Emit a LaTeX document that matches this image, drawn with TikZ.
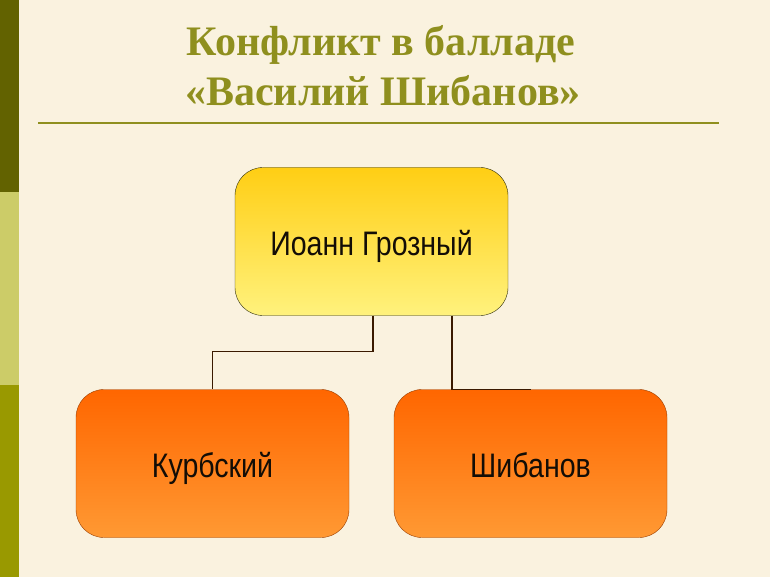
\documentclass[tikz,border=0pt]{standalone}
\usepackage{fontspec}
\usepackage{graphicx}
\usepackage{xcolor}
\usepackage{tikz}
\setmainfont{Liberation Serif}
\newfontfamily\boxfont{Liberation Sans}

\definecolor{paper}{RGB}{250,242,223}
\definecolor{olivetitle}{RGB}{143,143,30}
\definecolor{bardark}{RGB}{98,98,0}
\definecolor{barlight}{RGB}{204,204,104}
\definecolor{barmid}{RGB}{153,153,0}
\definecolor{yellowtop}{RGB}{255,206,20}
\definecolor{yellowbot}{RGB}{255,242,125}
\definecolor{orangetop}{RGB}{255,102,0}
\definecolor{orangebot}{RGB}{255,153,51}
\definecolor{linkline}{RGB}{58,26,0}

\newcommand{\boxtext}[1]{\boxfont\fontsize{34}{40}\selectfont\scalebox{0.84}[1]{#1}}

\begin{document}
\begin{tikzpicture}[x=1pt,y=-1pt,
	title/.style={anchor=base,text=olivetitle,font=\fontsize{42}{50}\selectfont\bfseries},
	namebox/.style={draw,rounded corners=28pt,minimum width=273pt,minimum height=148pt,inner sep=0pt,text height=27pt,text depth=0pt,text=black!90!brown},
	topbox/.style={namebox,draw=black!70!olivetitle,top color=yellowtop,bottom color=yellowbot},
	sidebox/.style={namebox,draw=orangetop!60!black,top color=orangetop,bottom color=orangebot},
	link/.style={draw=linkline,line width=1.5pt}]
	\useasboundingbox (0,0) rectangle (770,577);
	\fill[paper] (0,0) rectangle (770,577);
	
	% side bar
	\fill[bardark] (0,0) rectangle (19,192);
	\fill[barlight] (0,192) rectangle (19,385);
	\fill[barmid] (0,385) rectangle (19,577);
	
	\node[title] (t1) at (381,56) {Конфликт в балладе};
	\node[title] (t2) at (383,106) {«Василий Шибанов»};
	\draw[olivetitle,line width=2.5pt] (38,123) -- (719,123);
	
	\node[topbox] (ivan) at (371.5,241.5) {\boxtext{Иоанн Грозный}};
	\node[sidebox] (kurb) at (212.5,463.5) {\boxtext{Курбский}};
	\node[sidebox] (shib) at (530.5,463.5) {\boxtext{Шибанов}};
	
	\draw[link] ([xshift=1.5pt]ivan.south) -- ++(0,36) -| (kurb.north);
	\draw[link] ([xshift=80.5pt]ivan.south) |- (shib.north);

\end{tikzpicture}
\end{document}
